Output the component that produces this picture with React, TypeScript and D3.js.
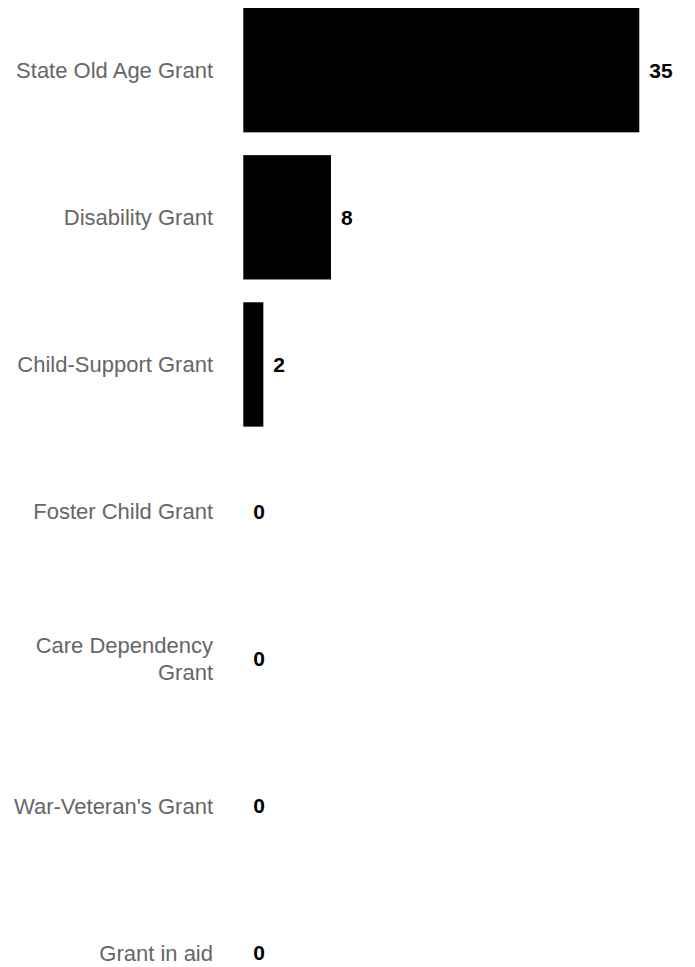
import React, { useEffect, useRef } from "react";
import * as d3 from "d3";

const categories = [
  "State Old Age Grant",
  "Disability Grant",
  "Child-Support Grant",
  "Foster Child Grant",
  "Care Dependency Grant",
  "War-Veteran's Grant",
  "Grant in aid",
];
const values = [35, 7.75, 1.77, 0, 0, 0, 0];

const W = 695;
const H = 967;

export default function App() {
  const ref = useRef<SVGSVGElement>(null);

  useEffect(() => {
    const svg = d3.select(ref.current);
    svg.selectAll("*").remove();
    const data = categories.map((c, i) => ({ c, v: values[i] }));

    const x = d3.scaleLinear().domain([0, 35]).range([243.3, 639.3]);
    const y = d3
      .scaleBand<string>()
      .domain(categories)
      .range([-3.4, 1026.6])
      .paddingInner(0.155)
      .paddingOuter(0.0775);

    const font = "'Liberation Sans', Arial, Helvetica, sans-serif";

    svg
      .append("g")
      .selectAll("rect")
      .data(data)
      .join("rect")
      .attr("x", x(0))
      .attr("y", (d) => y(d.c)!)
      .attr("width", (d) => x(d.v) - x(0))
      .attr("height", y.bandwidth())
      .attr("fill", "#000");

    const fmt = d3.format(".0f");
    svg
      .append("g")
      .selectAll("text")
      .data(data)
      .join("text")
      .attr("x", (d) => x(d.v) + 10)
      .attr("y", (d) => y(d.c)! + y.bandwidth() / 2)
      .attr("dy", "0.35em")
      .attr("font-family", font)
      .attr("font-size", 21)
      .attr("font-weight", "bold")
      .attr("fill", "#000")
      .text((d) => fmt(d.v));

    const maxW = 212;
    const lh = 26.4;
    const labels = svg.append("g");
    data.forEach((d) => {
      const t = labels
        .append("text")
        .attr("x", 213)
        .attr("text-anchor", "end")
        .attr("font-family", font)
        .attr("font-size", 22)
        .attr("fill", "#666");
      // wrap
      const words = d.c.split(" ");
      const lines: string[] = [];
      let cur: string[] = [];
      const probe = t.append("tspan");
      words.forEach((w) => {
        const test = [...cur, w].join(" ");
        probe.text(test);
        if ((probe.node() as SVGTSpanElement).getComputedTextLength() > maxW && cur.length) {
          lines.push(cur.join(" "));
          cur = [w];
        } else cur.push(w);
      });
      if (cur.length) lines.push(cur.join(" "));
      probe.remove();
      const cy = y(d.c)! + y.bandwidth() / 2;
      const startY = cy - ((lines.length - 1) * lh) / 2;
      lines.forEach((ln, i) => {
        t.append("tspan")
          .attr("x", 213)
          .attr("y", startY + i * lh)
          .attr("dy", "0.35em")
          .text(ln);
      });
    });
  }, []);

  return (
    <svg
      ref={ref}
      width={W}
      height={H}
      style={{ position: "absolute", left: 0, top: 0, background: "#fff" }}
    />
  );
}
